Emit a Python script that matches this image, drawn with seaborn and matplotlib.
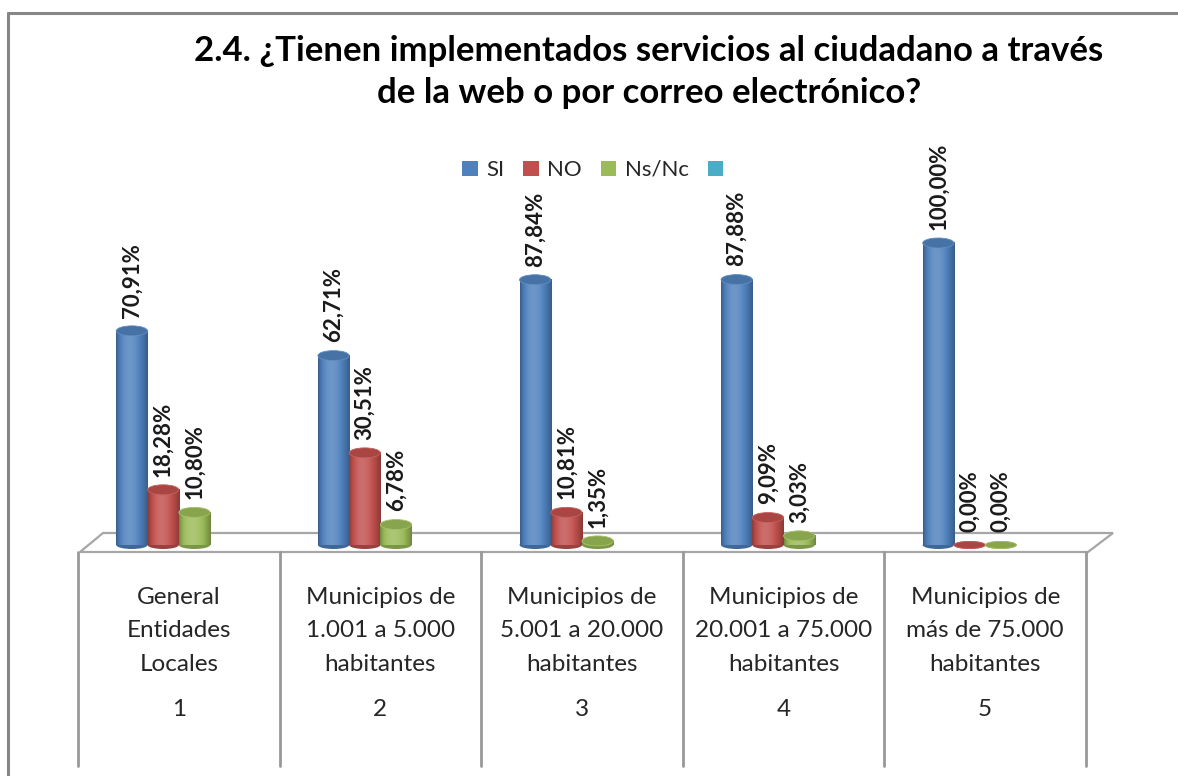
import numpy as np
import pandas as pd
import matplotlib
matplotlib.use("Agg")
import matplotlib.pyplot as plt
import matplotlib.colors as mcolors
from matplotlib.patches import Ellipse, Polygon
from matplotlib.lines import Line2D
import seaborn as sns

# ---------------- data ----------------
categories = ["General\nEntidades\nLocales",
              "Municipios de\n1.001 a 5.000\nhabitantes",
              "Municipios de\n5.001 a 20.000\nhabitantes",
              "Municipios de\n20.001 a 75.000\nhabitantes",
              "Municipios de\nmás de 75.000\nhabitantes"]
cat_numbers = ["1", "2", "3", "4", "5"]
series_names = ["SI", "NO", "Ns/Nc", " "]
si_values = [70.91, 62.71, 87.84, 87.88, 100.00]
no_values = [18.28, 30.51, 10.81, 9.09, 0.00]
nsnc_values = [10.80, 6.78, 1.35, 3.03, 0.00]
title = "2.4. ¿Tienen implementados servicios al ciudadano a través\nde la web o por correo electrónico?"

colors = {"SI": "#4F81BD", "NO": "#C0504D", "Ns/Nc": "#9BBB59", " ": "#4BACC6"}

rows = []
for name, vals in zip(series_names[:3], [si_values, no_values, nsnc_values]):
    for c, v in zip(categories, vals):
        rows.append({"cat": c, "serie": name, "val": v})
df = pd.DataFrame(rows)

# ---------------- layout ----------------
W, H = 1178, 776
sns.set_style("white")
plt.rcParams["font.family"] = ["Lato", "DejaVu Sans"]

fig = plt.figure(figsize=(W / 100, H / 100), dpi=100)
ax_left, ax_right, ax_bottom, ax_top = 78, 1086, 545, 140
ax = fig.add_axes([ax_left / W, 1 - ax_bottom / H, (ax_right - ax_left) / W, (ax_bottom - ax_top) / H])
ax.patch.set_visible(False)

sns.barplot(data=df, x="cat", y="val", hue="serie", hue_order=series_names,
            order=categories, palette=colors, width=0.62, gap=0, ax=ax,
            saturation=1, linewidth=0, zorder=2)

px_per_unit = 302 / 100.0
ymax = (ax_bottom - ax_top) / px_per_unit
cap_h = 10 / px_per_unit


def shade(rgb, f):
    rgb = np.array(rgb)
    if f <= 1:
        return rgb * f
    return rgb + (1 - rgb) * (f - 1)


value_lists = [si_values, no_values, nsnc_values]
containers = [c for c in ax.containers if len(c) > 0]
for cont, name, vals in zip(containers, series_names[:3], value_lists):
    base = mcolors.to_rgb(colors[name])
    t = np.linspace(0, 1, 64)
    prof = 0.72 + 0.45 * np.sin(np.pi * t ** 0.8)
    grad = np.array([[shade(base, f) for f in prof]])
    for bar in cont:
        x, w, h = bar.get_x(), bar.get_width(), bar.get_height()
        bar.set_alpha(0)
        ax.add_patch(Ellipse((x + w / 2, 0), w, cap_h * 0.8, facecolor=shade(base, 0.8),
                             edgecolor="none", clip_on=False, zorder=2))
        if h > 0:
            ax.imshow(grad, extent=(x, x + w, 0, h), aspect="auto",
                      interpolation="bilinear", zorder=3)
        ax.add_patch(Ellipse((x + w / 2, h), w, cap_h if h > 0 else cap_h * 0.7,
                             facecolor=shade(base, 0.88), edgecolor=shade(base, 1.1),
                             linewidth=0.6, clip_on=False, zorder=4))
    labels = [f"{v:.2f}".replace(".", ",") + "%" for v in vals]
    ax.bar_label(cont, labels=labels, rotation=90, padding=9.5,
                 fontsize=16, fontweight="bold", color="#1a1a1a")

ax.set_xlim(-0.5, len(categories) - 0.5)
ax.set_ylim(0, ymax)
ax.set_yticks([])
ax.set_ylabel("")
ax.set_xlabel("")
for s in ax.spines.values():
    s.set_visible(False)
ax.tick_params(axis="x", length=0, pad=30, labelsize=17.5, labelcolor="#262626")
ax.set_xticks(range(len(categories)))
ax.set_xticklabels(categories, linespacing=1.74)

# category numbers
xt = ax.get_xaxis_transform()
for i, n in enumerate(cat_numbers):
    ax.text(i, -(710 - ax_bottom) / (ax_bottom - ax_top), n, transform=xt,
            ha="center", va="center", fontsize=17.5, color="#262626")

# table vertical lines
front_y = -(552 - ax_bottom) / (ax_bottom - ax_top)
end_y = -(766 - ax_bottom) / (ax_bottom - ax_top)
for b in np.arange(-0.5, len(categories), 1.0):
    ax.plot([b, b], [front_y, end_y], transform=xt, color="#989898", lw=2, clip_on=False, zorder=1)


def fpx(x, y):
    return (x / W, 1 - y / H)


# floor (3D plane)
floor = Polygon([fpx(80, 552), fpx(1088, 552), fpx(1113, 533), fpx(103, 533)],
                closed=True, fill=False, edgecolor="#A6A6A6", lw=1.6,
                transform=fig.transFigure, zorder=-1)
fig.add_artist(floor)

# chart border
fig.add_artist(Line2D([8 / W, 8 / W], [0, 1 - 13 / H], transform=fig.transFigure,
                      color="#868686", lw=2.2))
fig.add_artist(Line2D([8 / W, 1], [1 - 13 / H, 1 - 13 / H], transform=fig.transFigure,
                      color="#868686", lw=2.2))

# title
fig.text(649 / W, 1 - 72 / H, title, ha="center", va="center", fontsize=25,
         fontweight="bold", color="black", linespacing=1.38)

# legend
sns.move_legend(ax, "center", bbox_to_anchor=fpx(600, 170), bbox_transform=fig.transFigure,
                ncol=4, frameon=False, title=None, fontsize=16, handlelength=0.68,
                handleheight=0.68, handletextpad=0.4, columnspacing=0.85)

fig.savefig("out.png", dpi=100)
